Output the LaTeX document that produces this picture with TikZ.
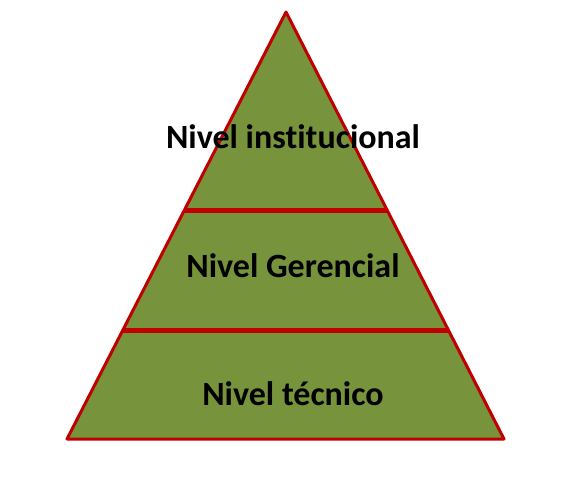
\documentclass[tikz,border=0pt]{standalone}
\usepackage{fontspec}
\setmainfont[Ligatures=NoCommon]{Carlito}
\usepackage{tikz}
\usetikzlibrary{calc}
\definecolor{olivo}{HTML}{77933C}
\definecolor{rojo}{HTML}{C00000}
\tikzset{nivel/.style={font=\bfseries\fontsize{34}{39}\selectfont,text=black}}
\begin{document}
\begin{tikzpicture}[x=1pt,y=-1pt,line cap=round,line join=round]
        \useasboundingbox (0,0) rectangle (574,480);
        \coordinate (A) at (286,12);
        \coordinate (B) at (67,439);
        \coordinate (C) at (504,439);
        \draw[fill=olivo,draw=rojo,line width=3pt] (A) -- (B) -- (C) -- cycle;
        \draw[rojo,line width=5pt,line cap=butt] ($(A)!0.466!(B)$) -- ($(A)!0.466!(C)$);
        \draw[rojo,line width=5pt,line cap=butt] ($(A)!0.747!(B)$) -- ($(A)!0.747!(C)$);
        \node[nivel] (inst) at (293,137) {Nivel institucional};
        \node[nivel] (ger) at (293,266) {Nivel Gerencial};
        \node[nivel] (tec) at (293,394) {Nivel técnico};
      \end{tikzpicture}
\end{document}
